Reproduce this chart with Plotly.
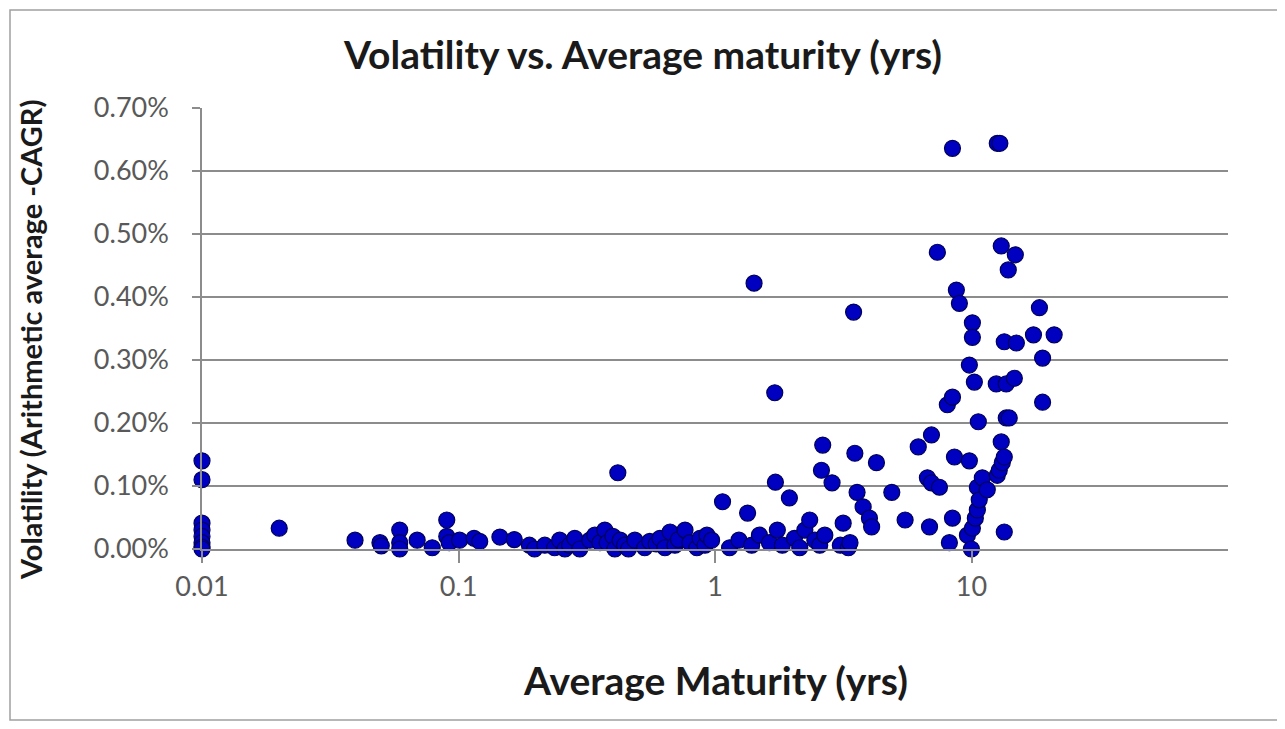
import plotly.graph_objects as go

# average maturity (yrs) and volatility (%)
maturity_yrs = [
    0.01, 0.01, 0.01, 0.01, 0.01, 0.01, 0.01, 0.01,
    0.02, 0.0395, 0.0494, 0.05, 0.059, 0.059, 0.059, 0.069, 0.079, 0.09, 0.09, 0.092,
    0.101, 0.115, 0.121, 0.145, 0.165, 0.189, 0.198, 0.217, 0.237, 0.248, 0.26,
    0.271, 0.284, 0.297, 0.325, 0.34, 0.356, 0.372, 0.38, 0.4, 0.407, 0.418,
    0.427, 0.444, 0.46, 0.487, 0.532, 0.557, 0.59, 0.61, 0.638, 0.668, 0.698,
    0.72, 0.764, 0.798, 0.85, 0.874, 0.914,
    0.93, 0.97, 1.07, 1.14, 1.24, 1.34, 1.39, 1.42, 1.49, 1.63, 1.71, 1.72,
    1.75, 1.83, 1.95, 2.04, 2.14, 2.24, 2.34, 2.45, 2.56, 2.6, 2.63, 2.68,
    2.86, 3.08, 3.16, 3.31, 3.36, 3.47, 3.51, 3.58, 3.78, 4.0, 4.08, 4.26,
    4.89, 5.51, 6.2, 6.73, 6.86, 6.98, 6.98, 7.36, 7.5, 8.05, 8.2, 8.43,
    8.43, 8.43, 8.58, 8.73, 8.97, 9.64, 9.81, 9.81, 9.99, 10.08, 10.08, 10.08,
    10.26, 10.35, 10.54, 10.54, 10.63, 10.72, 11.02, 11.52, 12.49, 12.6, 12.6,
    12.83, 12.9, 13.06, 13.06, 13.18, 13.42, 13.42, 13.42, 13.66, 13.66, 13.91,
    14.03, 14.69, 14.82, 14.96, 17.44, 18.4, 18.93, 18.93, 21.0,
]
volatility_pct = [
    0.140, 0.110, 0.041, 0.030, 0.020, 0.010, 0.003, 0.000,
    0.033, 0.014, 0.010, 0.005, 0.030, 0.010, 0.000, 0.014, 0.002, 0.046, 0.020, 0.010,
    0.014, 0.017, 0.012, 0.019, 0.015, 0.006, 0.000, 0.006, 0.002, 0.014, 0.000,
    0.006, 0.017, 0.000, 0.014, 0.022, 0.010, 0.030, 0.010, 0.020, 0.000, 0.121,
    0.014, 0.006, 0.000, 0.014, 0.002, 0.012, 0.008, 0.017, 0.002, 0.027, 0.006,
    0.015, 0.030, 0.010, 0.002, 0.017, 0.006,
    0.022, 0.014, 0.075, 0.002, 0.014, 0.057, 0.006, 0.422, 0.022, 0.010, 0.248, 0.106,
    0.030, 0.006, 0.081, 0.017, 0.002, 0.030, 0.046, 0.014, 0.006, 0.125, 0.165, 0.022,
    0.105, 0.006, 0.041, 0.002, 0.010, 0.376, 0.152, 0.090, 0.067, 0.049, 0.035, 0.137,
    0.090, 0.046, 0.162, 0.113, 0.035, 0.181, 0.105, 0.471, 0.098, 0.229, 0.010, 0.241,
    0.636, 0.049, 0.146, 0.411, 0.390, 0.022, 0.140, 0.292, 0.000, 0.359, 0.336, 0.033,
    0.265, 0.049, 0.062, 0.098, 0.202, 0.078, 0.113, 0.094, 0.262, 0.644, 0.117,
    0.125, 0.644, 0.481, 0.170, 0.137, 0.146, 0.027, 0.329, 0.208, 0.262, 0.443,
    0.208, 0.271, 0.467, 0.327, 0.340, 0.383, 0.303, 0.233, 0.340,
]

x_tick_vals = [0.01, 0.1, 1, 10]
x_tick_text = ["0.01", "0.1", "1", "10"]
y_tick_vals = [0, 0.1, 0.2, 0.3, 0.4, 0.5, 0.6, 0.7]
y_tick_text = ["0.00%", "0.10%", "0.20%", "0.30%", "0.40%", "0.50%", "0.60%", "0.70%"]

FONT = "Lato, Open Sans, sans-serif"
GRID = "#8c8c8c"
TICKFONT = dict(family=FONT, size=27, color="#595959")

# the page body adds an 8px offset, so margins are trimmed by that much
fig = go.Figure()
fig.add_trace(go.Scatter(
    x=maturity_yrs,
    y=volatility_pct,
    mode="markers",
    cliponaxis=False,
    marker=dict(size=16, color="#0000c0", line=dict(color="#00005a", width=1.2)),
    showlegend=False,
))

PW, PH = 1026, 441  # plot area size in px

fig.update_layout(
    width=1285,
    height=729,
    margin=dict(l=194, r=65, t=100, b=188),
    paper_bgcolor="white",
    plot_bgcolor="white",
    title=dict(
        text="<b>Volatility vs. Average maturity (yrs)</b>",
        x=(643 - 8) / 1285, xanchor="center",
        y=1 - 47 / 729, yanchor="middle",
        font=dict(family=FONT, size=39, color="#1a1a1a"),
    ),
    xaxis=dict(
        type="log",
        range=[-2, 2],
        tickvals=x_tick_vals,
        ticktext=x_tick_text,
        tickfont=TICKFONT,
        showgrid=False,
        showline=True,
        linecolor=GRID,
        linewidth=1.5,
        ticks="outside",
        ticklen=12,
        tickcolor=GRID,
        tickwidth=1.5,
        zeroline=False,
        ticklabelstandoff=1,
    ),
    yaxis=dict(
        range=[0, 0.7],
        tickvals=y_tick_vals,
        ticktext=y_tick_text,
        tickfont=TICKFONT,
        showgrid=True,
        gridcolor=GRID,
        gridwidth=1.5,
        showline=True,
        linecolor=GRID,
        linewidth=1.5,
        ticks="outside",
        ticklen=8,
        tickcolor=GRID,
        tickwidth=1.5,
        zeroline=False,
        ticklabelstandoff=18,
    ),
    annotations=[
        dict(
            text="<b>Average Maturity (yrs)</b>",
            xref="paper", yref="paper",
            x=0.5, y=(549 - 680) / PH,
            xanchor="center", yanchor="middle",
            showarrow=False,
            font=dict(family=FONT, size=39, color="#1a1a1a"),
        ),
        dict(
            text="<b>Volatility (Arithmetic average -CAGR)</b>",
            xref="paper", yref="paper",
            x=(30 - 202) / PW, y=(549 - 340) / PH,
            xanchor="center", yanchor="middle",
            textangle=-90,
            showarrow=False,
            font=dict(family=FONT, size=29, color="#1a1a1a"),
        ),
    ],
    shapes=[
        dict(
            type="rect", xref="paper", yref="paper",
            x0=(10 - 202) / PW, x1=(1278 - 202) / PW,
            y0=(549 - 720) / PH, y1=(549 - 10) / PH,
            line=dict(color="#a0a0a0", width=1.5),
            layer="below",
        ),
    ],
)

fig.write_html("out.html")
